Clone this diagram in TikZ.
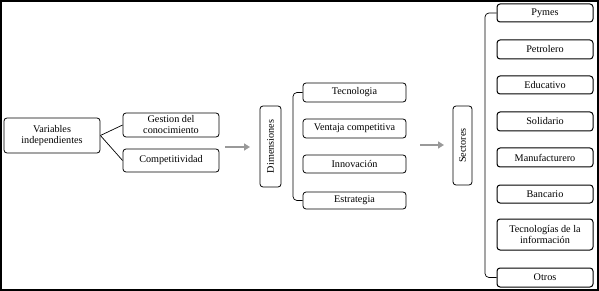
\documentclass[tikz,border=0pt]{standalone}
\usepackage{fontspec}
\setmainfont{Liberation Serif}
\usetikzlibrary{arrows.meta}
\begin{document}
\begin{tikzpicture}[x=1pt,y=-1pt,
  bx/.style={draw=black,line width=0.8pt,rounded corners=3pt,inner sep=0pt,align=center,font=\fontsize{10.2}{11}\selectfont},
  ln/.style={draw=black,line width=0.7pt},
  garrow/.style={draw=gray!80,line width=1.6pt,-{Triangle[length=6pt,width=7pt]}}]
\useasboundingbox (0,0) rectangle (599,291);
\draw[line width=1.8pt] (0.9,0.9) rectangle (598.1,290.1);
% left
\node[bx,minimum width=96pt,minimum height=35pt] (vi) at (52,135.5) {Variables\\independientes};
\node[bx,minimum width=96pt,minimum height=24pt] (gc) at (171,125) {Gestion del\\conocimiento};
\node[bx,minimum width=96pt,minimum height=23pt] (co) at (171,160.5) {Competitividad};
\draw[ln] (vi.east) -- (gc.west);
\draw[ln] (vi.east) -- (co.west);
\coordinate (a1s) at (225,147);
\coordinate (a1e) at (250,147);
\draw[garrow] (a1s) -- (a1e);
% dimensiones
\node[bx,minimum width=21pt,minimum height=81pt] (dim) at (270.5,146.5) {};
\node[rotate=90,font=\fontsize{10.2}{11}\selectfont] (dimt) at (dim.center) {Dimensiones};
\node[bx,minimum width=103pt,minimum height=19pt] (te) at (354.5,92.5) {Tecnologia};
\node[bx,minimum width=103pt,minimum height=19pt] (ve) at (354.5,128.5) {Ventaja competitiva};
\node[bx,minimum width=103pt,minimum height=18pt] (in) at (354.5,164) {Innovación};
\node[bx,minimum width=103pt,minimum height=17pt] (es) at (354.5,200.5) {Estrategia};
\draw[ln,rounded corners=4pt] (te.west) -| (293,146) |- (es.west);
\coordinate (a2s) at (420,145);
\coordinate (a2e) at (444,145);
\draw[garrow] (a2s) -- (a2e);
% sectores
\node[bx,minimum width=19pt,minimum height=79pt] (sec) at (462.5,145.5) {};
\node[rotate=90,font=\fontsize{10.2}{11}\selectfont] (sect) at (sec.center) {Sectores};
\begin{scope}[every node/.append style={bx,minimum width=96pt,line width=1pt}]
\node[minimum height=18pt] (py) at (545,13) {Pymes};
\node[minimum height=19pt] (pe) at (545,49.5) {Petrolero};
\node[minimum height=18pt] (ed) at (545,85) {Educativo};
\node[minimum height=19pt] (so) at (545,121.5) {Solidario};
\node[minimum height=19pt] (ma) at (545,157.5) {Manufacturero};
\node[minimum height=18pt] (ba) at (545,194) {Bancario};
\node[minimum height=31pt] (ti) at (545,234.5) {Tecnologías de la\\información};
\node[minimum height=19pt] (ot) at (545,277.5) {Otros};
\end{scope}
\draw[ln,rounded corners=4pt] (py.west) -| (485,145) |- (ot.west);
\end{tikzpicture}
\end{document}
